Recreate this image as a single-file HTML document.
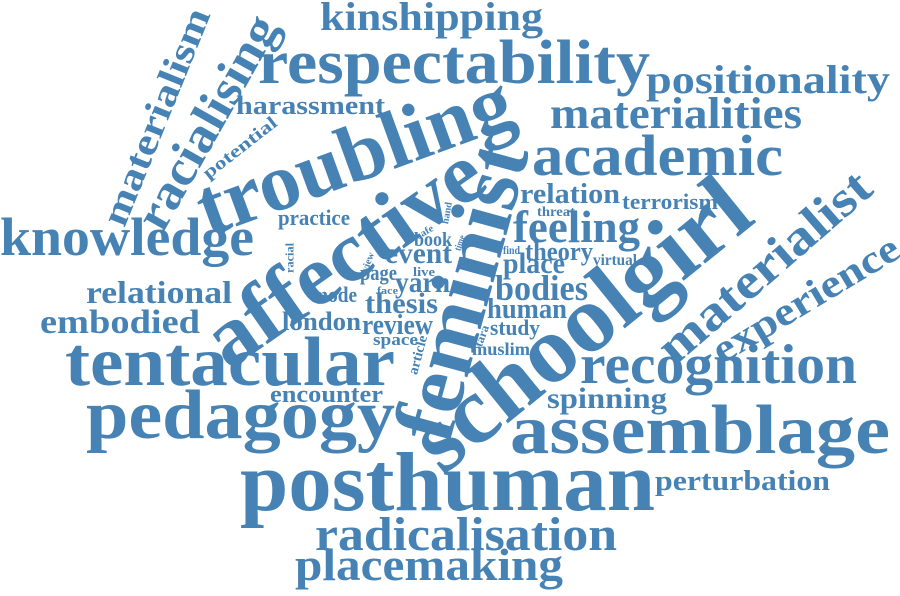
<!DOCTYPE html>
<html><head><meta charset="utf-8">
<style>
html,body{margin:0;padding:0;background:#fff;}
svg{display:block;}
text{font-family:"Liberation Serif",serif;font-weight:bold;fill:#4682b4;}
</style></head>
<body>
<svg id="cloud" width="900" height="596" viewBox="0 0 900 596" xmlns="http://www.w3.org/2000/svg"></svg>
<script>
// horizontal words: text, left x, right x, baseline, font size
const hWords = ["kinshipping","respectability","positionality","materialities","academic","relation","terrorism","threat","feeling","find","theory","virtual","place","bodies","human","study","muslim","recognition","spinning","encounter","pedagogy","assemblage","posthuman","perturbation","radicalisation","placemaking","knowledge","relational","embodied","tentacular","harassment","practice","event","book","page","live","yarn","face","mode","thesis","london","review","space"];
const hLeft  = [320,258,646,550,532,520,622,537,513,503,525,593,503,495,487,490,472,580,547,270,86,510,240,655,315,295,0,86,40,65,236,278,385,414,360,413,395,377,312,365,282,362,373];
const hRight = [543,650,890,802,783,620,718,575,640,520,593,637,565,588,567,540,530,857,667,383,395,890,655,830,617,563,254,232,200,395,385,350,452,452,397,435,450,398,357,438,361,433,418];
const hBase  = [30,83,93,128,175,203,209,216,242,254,260,265,273,300,318,335,355,383,408,402,438,453,510,490,550,580,255,303,333,385,114,225,263,246,280,276,292,294,302,313,330,334,345];
const hSize  = [40,62,40,44,58,28,22,14,46,12,26,16,30,36,28,22,18,56,30,24,70,70,84,28,48,46,54,32,34,70,26,22,30,20,22,13,30,10,22,30,26,28,17];

// rotated words: text, centre x, centre y, angle, font size, length
const rWords = ["materialism","racialising","potential","troubling","affective","feminist","schoolgirl","materialist","experience","racial","view","safe","hand","time","tara","article"];
const rCx   = [157,208,240,355,345,464,582,765,806,290,368,425,447,460,482,418];
const rCy   = [117,123,148,157,258,292,326,268,300,258,262,232,213,243,336,355];
const rAng  = [-68,-60.5,-38,-20,-35,-74.7,-39,-41,-31,-90,-70,-30,-80,-70,-70,-75];
const rSize = [38,50,18,82,86,86,96,50,40,12,10,10,10,10,12,14];
const rLen  = [231,238,89,330,320,305,405,266,211,30,20,18,22,16,22,40];

const NS = "http://www.w3.org/2000/svg";
const svg = document.getElementById("cloud");
hWords.forEach((w,i)=>{
  const t = document.createElementNS(NS,"text");
  
  
  t.setAttribute("x", hLeft[i]);
  t.setAttribute("y", hBase[i]);
  t.setAttribute("font-size", hSize[i]);
  t.setAttribute("textLength", hRight[i]-hLeft[i]);
  t.setAttribute("lengthAdjust", "spacingAndGlyphs");
  t.textContent = w;
  svg.appendChild(t);
});
rWords.forEach((w,i)=>{
  const t = document.createElementNS(NS,"text");
  
  
  t.setAttribute("x", 0);
  t.setAttribute("y", 0);
  t.setAttribute("dy", (0.3*rSize[i]).toFixed(1));
  t.setAttribute("text-anchor", "middle");
  t.setAttribute("font-size", rSize[i]);
  t.setAttribute("textLength", rLen[i]);
  t.setAttribute("lengthAdjust", "spacingAndGlyphs");
  t.setAttribute("transform", "translate(" + rCx[i] + "," + rCy[i] + ") rotate(" + rAng[i] + ")");
  t.textContent = w;
  svg.appendChild(t);
});
</script>
</body></html>
